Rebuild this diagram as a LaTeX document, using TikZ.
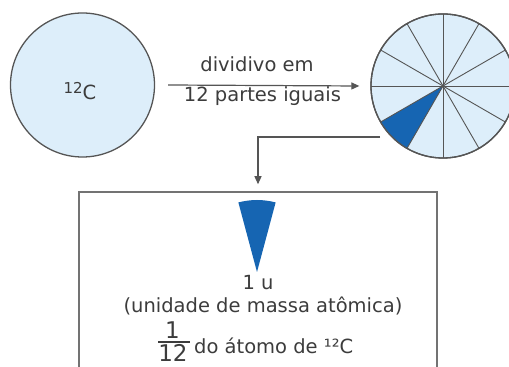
\documentclass[tikz,border=0pt]{standalone}
\usepackage{fontspec}
\setmainfont{DejaVu Sans}
\usetikzlibrary{arrows.meta}
\definecolor{lightblue}{RGB}{221,238,250}
\definecolor{darkblue}{RGB}{22,101,178}
\definecolor{linegray}{RGB}{85,85,85}
\definecolor{boxgray}{RGB}{115,115,115}
\definecolor{textgray}{RGB}{60,60,60}
\begin{document}
\begin{tikzpicture}[x=1pt,y=1pt,
  txt/.style={text=textgray,font=\fontsize{19.5}{22}\selectfont,inner sep=0pt},
  fractxt/.style={text=textgray,font=\fontsize{23}{26}\selectfont,inner sep=0pt},
  conn/.style={draw=linegray,line width=1.2pt,-{Triangle[length=8pt,width=7pt]}},
  spoke/.style={draw=linegray,line width=0.9pt},
  atom/.style={circle,draw=linegray,fill=lightblue,line width=1.3pt,minimum size=144pt,inner sep=0pt}]
\clip (0,0) rectangle (509,367);
% left atom
\node[atom] (lc) at (82.5,282) {};
\node[txt,anchor=base] (lct) at (80,267) {\raisebox{6pt}{\fontsize{15}{15}\selectfont 12}C};
% right atom divided in 12
\node[atom] (rc) at (443,281) {};
\fill[darkblue] (rc.center) -- ++(210:72) arc[start angle=210,end angle=240,radius=72] -- cycle;
\foreach \a in {0,30,...,150}
  \draw[spoke] ([shift={(\a:72)}]rc.center) -- ([shift={(\a+180:72)}]rc.center);
\draw[draw=linegray,line width=1.3pt] (rc.center) circle[radius=72];
% first arrow and labels
\draw[conn] ([xshift=13pt]lc.east) -- ([xshift=-11pt]rc.west);
\node[txt,anchor=base] (t1) at (257,295) {dividivo em};
\node[txt,anchor=base] (t2) at (262.5,265) {12 partes iguais};
% box
\node[draw=boxgray,line width=1.5pt,minimum width=358pt,minimum height=185pt,inner sep=0pt] (box) at (258,82.5) {};
\coordinate (c1) at (380,230);
\draw[conn] (c1) -| ([yshift=7pt]box.north);
% wedge
\coordinate (w) at (257,95);
\fill[darkblue] (w) -- ++(75:72) arc[start angle=75,end angle=105,radius=72] -- cycle;
% texts
\node[txt,anchor=base] (u) at (258,77) {1 u};
\node[txt,anchor=base] (uma) at (263,54) {(unidade de massa atômica)};
\node[fractxt,anchor=base] (num) at (172.5,28) {1};
\node[fractxt,anchor=base] (den) at (173,5.5) {12};
\coordinate (fl) at (158,25);
\coordinate (fr) at (190,25);
\draw[draw=textgray,line width=1.8pt] (fl) -- (fr);
\node[txt,anchor=base west] (do) at (194,13.5) {do átomo de ¹²C};
\end{tikzpicture}
\end{document}
